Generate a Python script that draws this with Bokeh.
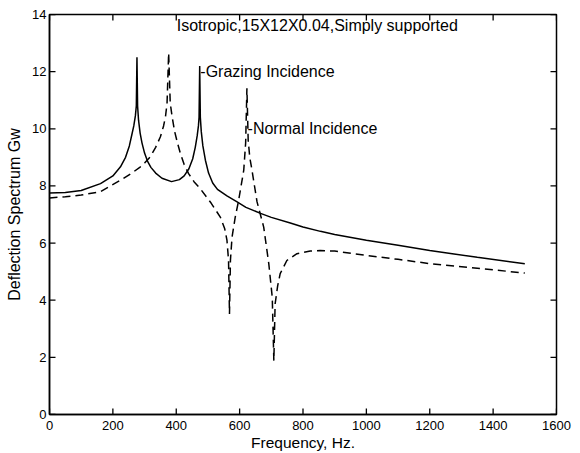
from bokeh.plotting import figure
from bokeh.models import FixedTicker, Range1d, ColumnDataSource
from bokeh.core.properties import value
from bokeh.embed import file_html
from bokeh.resources import INLINE

# Grazing incidence (solid)
grazing_f = [0, 50, 100, 161, 200, 224, 240, 252, 260, 266, 271, 274, 276, 278, 281, 286,
             292, 300, 310, 320, 335, 355, 385, 410, 425, 440, 452, 460, 466, 470, 472, 474,
             476, 479, 484, 492, 502, 515, 530, 560, 592, 620, 666, 700, 760, 800, 855, 900,
             1000, 1100, 1200, 1350, 1500]
grazing_g = [7.75, 7.77, 7.84, 8.08, 8.35, 8.67, 9.0, 9.4, 9.8, 10.1, 10.45, 10.8, 12.5, 10.8, 10.3, 9.85,
             9.5, 9.15, 8.85, 8.65, 8.45, 8.27, 8.15, 8.22, 8.35, 8.6, 8.95, 9.35, 9.75, 10.1, 10.4, 12.2,
             10.4, 9.9, 9.4, 8.9, 8.45, 8.1, 7.88, 7.65, 7.44, 7.25, 7.04, 6.9, 6.7, 6.56, 6.41, 6.3,
             6.1, 5.92, 5.74, 5.5, 5.28]

# Normal incidence (dashed)
normal_f = [0, 50, 100, 161, 224, 260, 287, 300, 318, 335, 350, 360, 366, 371, 376, 381,
            387, 395, 404, 413, 425, 439, 456, 476, 510, 539, 553, 560, 565, 568, 571, 576,
            586, 597, 613, 619, 623, 627, 632, 639, 655, 676, 692, 703, 708, 712, 720, 728,
            749, 781, 823, 854, 900, 1000, 1100, 1200, 1350, 1500]
normal_g = [7.58, 7.62, 7.68, 7.8, 8.2, 8.45, 8.67, 8.8, 9.02, 9.35, 9.72, 10.1, 10.42, 10.9, 12.65, 10.9,
            10.42, 9.9, 9.5, 9.14, 8.75, 8.43, 8.15, 7.9, 7.4, 6.91, 6.5, 6.1, 5.4, 3.52, 5.4, 6.2,
            6.9, 7.5, 8.55, 9.5, 11.42, 9.6, 9.0, 8.55, 7.44, 6.56, 5.28, 4.1, 1.88, 3.87, 4.5, 4.93,
            5.39, 5.63, 5.72, 5.74, 5.72, 5.57, 5.43, 5.28, 5.12, 4.95]

x_ticks = [0, 200, 400, 600, 800, 1000, 1200, 1400, 1600]
y_ticks = [0, 2, 4, 6, 8, 10, 12, 14]

title_text = "Isotropic,15X12X0.04,Simply supported"
label_texts = ["-Grazing Incidence", "-Normal Incidence"]
label_f = [476, 625]
label_g = [12.0, 10.0]

FONT = "Liberation Sans"
X0, X1, Y0, Y1 = 0, 1600, 0, 14
TICK_PX = 6

p = figure(width=580, height=453, output_backend="svg", toolbar_location=None,
           x_range=Range1d(X0, X1), y_range=Range1d(Y0, Y1),
           min_border_left=49, min_border_right=24, min_border_top=14, min_border_bottom=39)
p.background_fill_color = "white"
p.border_fill_color = "white"
p.outline_line_color = "black"
p.outline_line_width = 1.5
p.xgrid.visible = False
p.ygrid.visible = False

p.line(grazing_f, grazing_g, line_color="black", line_width=1.5)
p.line(normal_f, normal_g, line_color="black", line_width=1.5, line_dash="8 5")

# inward tick marks on all four sides (MATLAB style), computed from the tick lists
frame_w = 580 - 49 - 24
frame_h = 453 - 14 - 39
dx = TICK_PX * (X1 - X0) / frame_w
dy = TICK_PX * (Y1 - Y0) / frame_h
ticks = ColumnDataSource(dict(
    xs=[[t, t] for t in x_ticks] + [[t, t] for t in x_ticks]
       + [[X0, X0 + dx] for _ in y_ticks] + [[X1, X1 - dx] for _ in y_ticks],
    ys=[[Y0, Y0 + dy] for _ in x_ticks] + [[Y1, Y1 - dy] for _ in x_ticks]
       + [[t, t] for t in y_ticks] + [[t, t] for t in y_ticks],
))
p.multi_line(xs="xs", ys="ys", source=ticks, line_color="black", line_width=1.3)

p.text(x=[845], y=[13.6], text=[title_text], text_align="center", text_baseline="middle",
       text_font=value(FONT), text_font_size="16px", text_color="black")
p.text(x=label_f, y=label_g, text=label_texts, text_align="left", text_baseline="middle",
       text_font=value(FONT), text_font_size="16px", text_color="black")

def style(ax):
    ax.major_tick_in = 0
    ax.major_tick_out = 0
    ax.minor_tick_in = 0
    ax.minor_tick_out = 0
    ax.axis_line_color = "black"
    ax.axis_line_width = 1.5
    ax.major_label_text_color = "black"
    ax.axis_label_text_color = "black"

xa = p.xaxis[0]
xa.ticker = FixedTicker(ticks=x_ticks)
style(xa)
xa.axis_label = "Frequency, Hz."
xa.axis_label_text_font = FONT
xa.axis_label_text_font_size = "15.5px"
xa.axis_label_text_font_style = "normal"
xa.axis_label_standoff = 1
xa.major_label_text_font = FONT
xa.major_label_text_font_size = "13px"
xa.major_label_standoff = 6

ya = p.yaxis[0]
ya.ticker = FixedTicker(ticks=y_ticks)
style(ya)
ya.axis_label = "Deflection Spectrum Gw"
ya.axis_label_text_font = FONT
ya.axis_label_text_font_size = "16px"
ya.axis_label_text_font_style = "normal"
ya.axis_label_standoff = 6
ya.major_label_text_font = FONT
ya.major_label_text_font_size = "13px"
ya.major_label_standoff = 3

open("out.html", "w").write(file_html(p, INLINE))
